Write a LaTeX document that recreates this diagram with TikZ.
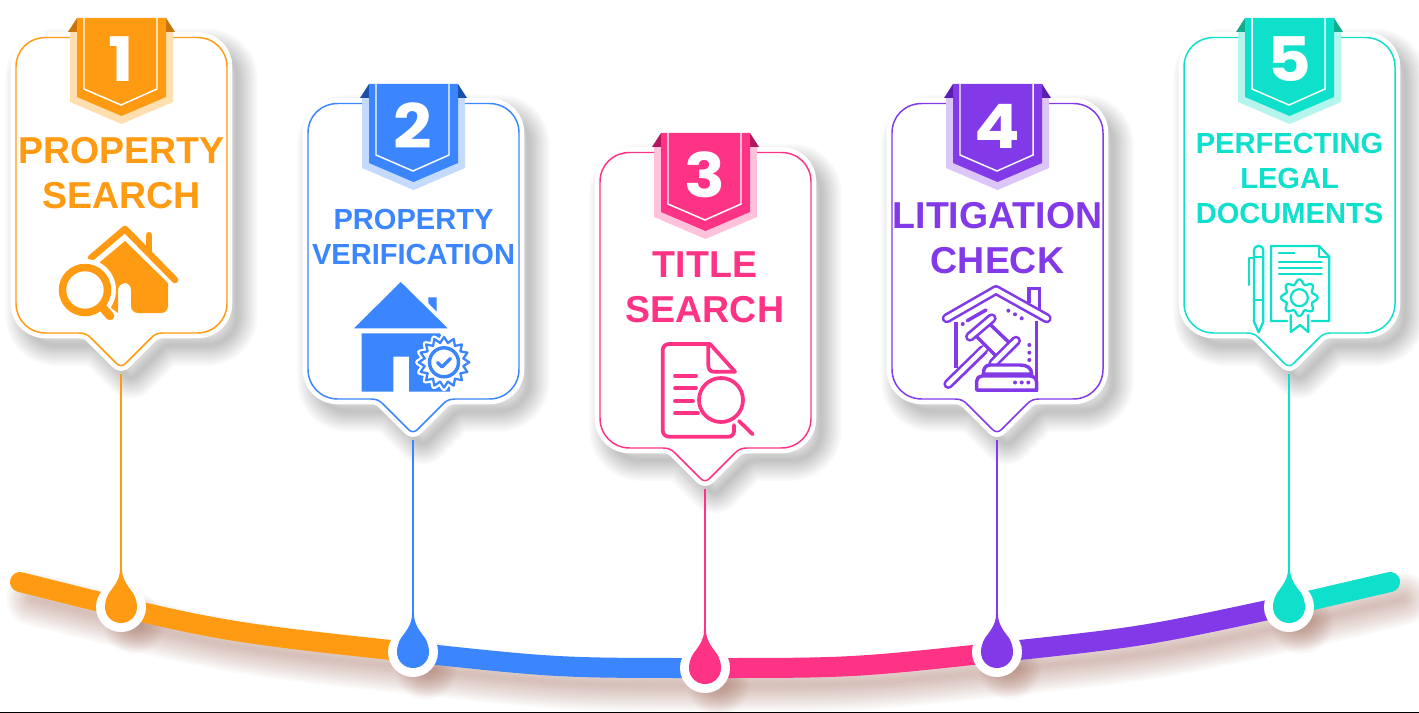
\documentclass[tikz,border=0pt]{standalone}
\usepackage{fontspec}
\setmainfont{Liberation Sans}
\newfontfamily\numfont[FakeStretch=1.1]{Poppins}
\definecolor{cA}{HTML}{FF9B12}\definecolor{cAd}{HTML}{C9730B}\definecolor{cAl}{HTML}{FFDFB0}
\definecolor{cB}{HTML}{3B86FF}\definecolor{cBd}{HTML}{1A4FA8}\definecolor{cBl}{HTML}{C5DAFF}
\definecolor{cC}{HTML}{FF3385}\definecolor{cCd}{HTML}{B3155F}\definecolor{cCl}{HTML}{FFC2DA}
\definecolor{cD}{HTML}{8239E8}\definecolor{cDd}{HTML}{5A1DB0}\definecolor{cDl}{HTML}{DCC5F8}
\definecolor{cE}{HTML}{0FE0CC}\definecolor{cEd}{HTML}{10AC8C}\definecolor{cEl}{HTML}{B5F5EE}
\definecolor{brownshade}{HTML}{9A5A48}
\tikzset{
  big/.style={font=\bfseries\fontsize{28.1}{33.75}\selectfont,align=center,anchor=base,inner sep=0pt},
  small/.style={font=\bfseries\fontsize{21.8}{26.25}\selectfont,align=center,anchor=base,inner sep=0pt},
  digit/.style={font=\numfont\bfseries\fontsize{46}{46}\selectfont,text=white,anchor=base,inner sep=0pt},
  ln/.style={line cap=round,line join=round},
}
\newcommand{\cardoutline}{(-75,0.5) -- (76,0.5) .. controls (93,0.5) and (106,13) .. (106,30) -- (106,266) .. controls (106,283) and (93,296) .. (76,296) -- (42,296) .. controls (36,296) and (33,298) .. (30,301) -- (5,326) .. controls (2,329.5) and (-2,329.5) .. (-5,326) -- (-30,301) .. controls (-33,298) and (-36,296) .. (-42,296) -- (-75,296) .. controls (-92,296) and (-105,283) .. (-105,266) -- (-105,30) .. controls (-105,13) and (-92,0.5) .. (-75,0.5) -- cycle}
% #1 id, #2 cx, #3 top, #4 colour prefix, #5 digit
\newcommand{\pincard}[5]{%
\begin{scope}[shift={(#2,#3)}]
  \begin{scope}[shift={(10,12)}]
    \foreach \w in {1,...,12}{\draw[black,opacity=0.021,line join=round,line width=\w*2.6pt] \cardoutline;}
  \end{scope}
  \draw[white,fill=white,line width=8pt,line join=round] \cardoutline;
  \draw[#4,line width=1.1pt,fill=white] \cardoutline;
  \fill[#4l] (-51,-5) -- (52,-5) -- (52,65) -- (0.5,87) -- (-51,65) -- cycle;
  \fill[#4d] (-53,-5) -- (-44,-19) -- (-44,-5) -- cycle;
  \fill[#4d] (54,-5) -- (45,-19) -- (45,-5) -- cycle;
  \fill[#4] (-44,-19) -- (45,-19) -- (45,60) -- (0.5,79) -- (-44,60) -- cycle;
  \draw[white,line width=1.1pt] (-37,-19) -- (-37,52) -- (0,68) -- (36,52) -- (36,-19);
  \node[digit] (num#1) at (0,45) {#5};
  \coordinate (tip#1) at (0,337);
\end{scope}}
% drop: #1 id, #2 cx, #3 cy, #4 colour
\newcommand{\dropmark}[4]{%
\begin{scope}[shift={(#2,#3)}]
  \fill[white] (0,0) circle[radius=25];
  \fill[#4] (-1,-38) .. controls (-1,-28) and (-6,-22) .. (-12,-14) .. controls (-15,-9) and (-16,-4) .. (-16,0) .. controls (-16,9) and (-9,16) .. (0,16) .. controls (9,16) and (16,9) .. (16,0) .. controls (16,-4) and (15,-9) .. (12,-14) .. controls (6,-22) and (1,-28) .. (1,-38) -- cycle;
\end{scope}}
\begin{document}
\begin{tikzpicture}[x=0.75pt,y=-0.75pt]
\useasboundingbox (0,0) rectangle (1419,713);
\fill[white] (0,0) rectangle (1419,713);
\draw[black,line width=1.1pt] (0,712.3) -- (1419,712.3);

% timeline shadow
\begin{scope}[shift={(13,17)}]
  \foreach \w in {1,...,12}{
    \draw[brownshade,opacity=0.036,line cap=round,line width=\w*3.3pt]
      (20,582) .. controls (216.5,631.3) .. (413,652.4) .. controls (559,668) .. (705,668) .. controls (851,668) .. (997,652.4) .. controls (1143,636.8) .. (1289,605.5) .. controls (1339.5,594.7) .. (1390,582);
    \foreach \cx/\cy in {121/606,413/652,705/668,997/652,1289/606}{
      \fill[brownshade,opacity=0.03] (\cx,\cy) circle[radius=8+\w*1.9];
    }
  }
\end{scope}

% timeline
\coordinate (p0) at (20,582);
\coordinate (p2) at (413,652.4);
\coordinate (p3) at (705,668);
\coordinate (p4) at (997,652.4);
\coordinate (p5) at (1289,605.5);
\coordinate (p6) at (1390,582);
\draw[cE,line width=15pt,line cap=round] (p5) .. controls (1339.5,594.7) .. (p6);
\draw[cD,line width=15pt] (p4) .. controls (1143,636.8) .. (p5);
\draw[cC,line width=15pt] (p3) .. controls (851,668) .. (p4);
\draw[cB,line width=15pt] (p2) .. controls (559,668) .. (p3);
\draw[cA,line width=15pt,line cap=round] (p0) .. controls (216.5,631.3) .. (p2);

% cards
\pincard{1}{121}{37}{cA}{1}
\pincard{2}{413}{103}{cB}{2}
\pincard{3}{705}{152}{cC}{3}
\pincard{4}{997}{103}{cD}{4}
\pincard{5}{1289}{37}{cE}{5}

% connectors
\coordinate (drop1) at (121,575);
\coordinate (drop2) at (413,620);
\coordinate (drop3) at (705,636);
\coordinate (drop4) at (997,620);
\coordinate (drop5) at (1289,575);
\draw[cA,line width=1.5pt] (tip1) -- (drop1);
\draw[cB,line width=1.5pt] (tip2) -- (drop2);
\draw[cC,line width=1.5pt] (tip3) -- (drop3);
\draw[cD,line width=1.5pt] (tip4) -- (drop4);
\draw[cE,line width=1.5pt] (tip5) -- (drop5);
\dropmark{1}{121}{607}{cA}
\dropmark{2}{413}{652}{cB}
\dropmark{3}{705}{668}{cC}
\dropmark{4}{997}{652}{cD}
\dropmark{5}{1289}{607}{cE}

% titles
\node[big,text=cA] (t1) at (121.5,208) {PROPERTY\\SEARCH};
\node[small,text=cB] (t2) at (413.5,264) {PROPERTY\\VERIFICATION};
\node[big,text=cC] (t3) at (705,322) {TITLE\\SEARCH};
\node[big,text=cD] (t4) at (997.5,273) {LITIGATION\\CHECK};
\node[small,text=cE] (t5) at (1289.5,223) {PERFECTING\\LEGAL\\DOCUMENTS};

% icon 1: house with magnifier
\fill[cA] (125,241) -- (168,283) -- (168,306) .. controls (168,310) and (165,313) .. (161,313) -- (138,313) .. controls (134,313) and (131,310) .. (131,306) -- (131,290) .. controls (131,286) and (128,283) .. (125,283) .. controls (122,283) and (118,286) .. (118,290) -- (118,313) -- (100,300) -- (85,290) -- (100,262) -- cycle;
\draw[cA,line width=5pt,ln] (91,258) -- (125,229) -- (175,280);
\draw[cA,line width=4.5pt,ln] (149,235) -- (149,252);
\fill[white] (85,290) circle[radius=31];
\draw[cA,line width=5.6pt] (85,290) circle[radius=22.5];
\draw[white,line width=9pt] (104,309) -- (116,321);
\draw[cA,line width=6.4pt,line cap=round] (103,308) -- (110,316);

% icon 2: house with seal
\fill[cB] (400.7,282) -- (447.7,328.3) -- (354,328.3) -- cycle;
\fill[cB] (428.3,297.3) -- (436.7,297.3) -- (436.7,311.7) -- (428.3,303) -- cycle;
\fill[cB] (361.7,333.3) -- (439.5,333.3) -- (450,345) -- (450,391.7) -- (409,391.7) -- (409,356.7) -- (393.3,356.7) -- (393.3,391.7) -- (361.7,391.7) -- cycle;
\draw[white,fill=white,line width=4pt,line join=round] plot[domain=0:360,samples=33,variable=\t] ({444+(23.5+2.8*cos(16*\t))*cos(\t)},{362.3+(23.5+2.8*cos(16*\t))*sin(\t)}) -- cycle;
\draw[cB,fill=white,line width=1.7pt,line join=round] plot[domain=0:360,samples=33,variable=\t] ({444+(22.5+2.8*cos(16*\t))*cos(\t)},{362.3+(22.5+2.8*cos(16*\t))*sin(\t)}) -- cycle;
\draw[cB,line width=2.6pt] (444,362.3) circle[radius=14.5];
\draw[cB,line width=2.6pt,ln] (437.5,362.5) -- (442,367) -- (450.5,358.5);

% icon 3: document with lens
\begin{scope}[cC,line width=2.8pt,ln]
  \draw (734,425) -- (734,431) .. controls (734,434.5) and (731.5,436.7) .. (728.3,436.7) -- (669,436.7) .. controls (665.5,436.7) and (662.7,434) .. (662.7,430.5) -- (662.7,350) .. controls (662.7,346.5) and (665.5,344) .. (669,344) -- (710,344) -- (735,371.7);
  \draw (708.3,344) -- (708.3,365) .. controls (708.3,369) and (710,371.7) .. (714,371.7) -- (735,371.7);
  \draw (675,375.7) -- (696,375.7);
  \draw (675,388.3) -- (696,388.3);
  \draw (675,401) -- (693,401);
  \draw (675,413.3) -- (698,413.3);
  \draw (721,400) circle[radius=22];
  \draw (739,421) -- (752.7,434.3);
\end{scope}

% icon 4: house with gavel
\draw[cD,line width=7.5pt,ln] (946.7,318.3) -- (996,290) -- (1046.7,318.3);
\draw[white,line width=3.6pt,ln] (946.7,318.3) -- (996,290) -- (1046.7,318.3);
\begin{scope}[cD,line width=2.6pt,line cap=butt,line join=miter]
  \draw (1028.8,303) -- (1028.8,288.3) -- (1039.3,288.3) -- (1039.3,309);
  \draw (956,322) -- (956,368);
  \draw (1036.7,321) -- (1036.7,390) -- (976.7,390);
  \draw[line cap=round] (967.3,320.7) -- (986,310);
  \fill (962.7,324) circle[radius=2];
  \foreach \x/\y in {1008.3/310.7,1015/314.3,1021.7/318.3,1029.3/345,1029.3/352.7,1029.3/360}{\fill (\x,\y) circle[radius=2];}
\end{scope}
\draw[cD,line width=7.5pt,ln] (983.3,350) -- (948.3,384);
\draw[white,line width=3.4pt,ln] (985,348) -- (948.3,384);
\draw[cD,fill=white,line width=2.6pt,line join=round] (975,335) -- (988.3,322.7) -- (1011.7,345) -- (998.3,358.3) -- cycle;
\draw[cD,line width=7.5pt,ln] (970,336.7) -- (991.7,318.3);
\draw[white,line width=3.4pt,ln] (970,336.7) -- (991.7,318.3);
\draw[cD,line width=7.5pt,ln] (993.3,363.3) -- (1016,340.7);
\draw[white,line width=3.4pt,ln] (993.3,363.3) -- (1016,340.7);
\draw[cD,fill=white,line width=2.6pt,line join=round] (983.3,374) .. controls (983.3,368) and (986,365) .. (990,365) -- (1020,365) .. controls (1027,365) and (1031.7,368) .. (1031.7,374) -- cycle;
\draw[cD,fill=white,line width=2.6pt,line join=round] (976.7,390) -- (976.7,381) .. controls (976.7,378) and (979,376) .. (982,376) -- (1030,376) .. controls (1034,376) and (1036.7,379) .. (1036.7,383) -- (1036.7,390) -- cycle;
\foreach \x in {1015,1021.7,1028.3}{\fill[cD] (\x,382.5) circle[radius=2];}

% icon 5: document with pen and seal
\begin{scope}[cE,line width=1.7pt,ln]
  \draw (1254,321.7) -- (1254,251) .. controls (1254,244) and (1263.3,244) .. (1263.3,251) -- (1263.3,321.7) -- (1258.7,332.3) -- cycle;
  \draw (1254,256.7) -- (1263.3,256.7);
  \draw (1254,300) -- (1263.3,300);
  \draw (1249.3,285) -- (1249.3,258.3) -- (1254,258.3);
  \draw (1287.3,321) -- (1271,321) -- (1271,246) -- (1319,246) -- (1329.3,256.7) -- (1329.3,321) -- (1311.7,321);
  \draw (1319,246) -- (1319,256.7) -- (1329.3,256.7);
  \draw (1279,253.3) -- (1294.3,253.3);
  \draw (1279,261.7) -- (1321.7,261.7);
  \draw (1279,267.7) -- (1321.7,267.7);
  \draw (1279,274) -- (1321.7,274);
  \draw[smooth] plot[domain=0:360,samples=65,variable=\t] ({1299.3+(16+2.4*cos(8*\t))*cos(\t)},{297.7+(16+2.4*cos(8*\t))*sin(\t)});
  \draw (1299.3,297.7) circle[radius=8.5];
  \draw (1290.7,315) -- (1290.7,332) -- (1300,325) -- (1308.3,332) -- (1308.3,315);
\end{scope}
\end{tikzpicture}
\end{document}
